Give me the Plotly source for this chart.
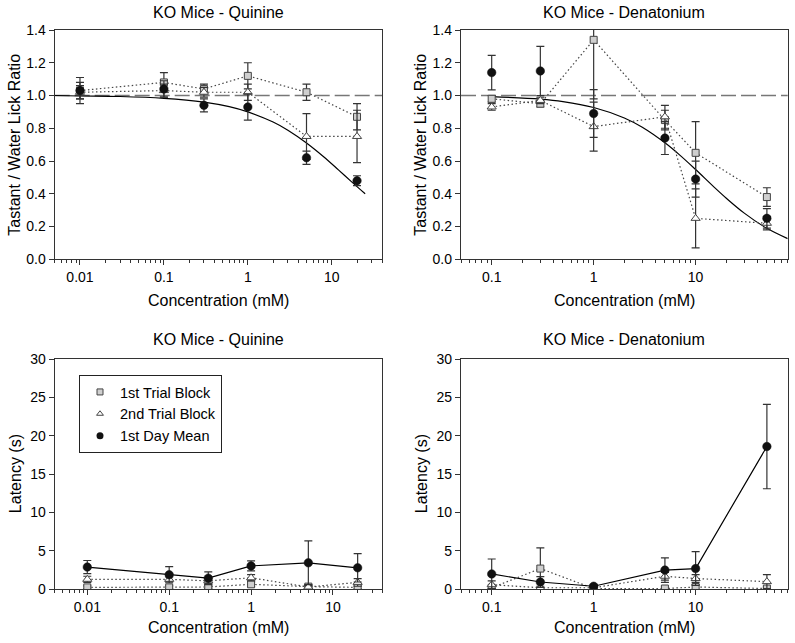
import math
import plotly.graph_objects as go

# ---------------- data ----------------
q_conc = [0.01, 0.1, 0.3, 1, 5, 20]
d_conc = [0.1, 0.3, 1, 5, 10, 50]

# Lick ratio, quinine
q_ratio_b1 = [1.03, 1.08, 1.04, 1.12, 1.02, 0.87]
q_ratio_b1_err = [0.05, 0.06, 0.03, 0.08, 0.05, 0.08]
q_ratio_b2 = [1.02, 1.03, 1.02, 1.02, 0.75, 0.75]
q_ratio_b2_err = [0.04, 0.04, 0.03, 0.05, 0.14, 0.16]
q_ratio_mean = [1.03, 1.04, 0.94, 0.93, 0.62, 0.48]
q_ratio_mean_err = [0.08, 0.05, 0.04, 0.08, 0.04, 0.03]
q_fit_x = [0.005, 0.01, 0.03, 0.1, 0.3, 0.6, 1, 2, 3, 5, 8, 12, 17, 25]
q_fit_y = [1.0, 0.997, 0.994, 0.983, 0.96, 0.932, 0.90, 0.838, 0.788, 0.71, 0.626, 0.546, 0.476, 0.40]

# Lick ratio, denatonium
d_ratio_b1 = [0.98, 0.95, 1.34, 0.85, 0.65, 0.38]
d_ratio_b1_err = [0.02, 0.02, 0.36, 0.06, 0.19, 0.057]
d_ratio_b2 = [0.93, 0.97, 0.81, 0.87, 0.25, 0.22]
d_ratio_b2_err = [0.02, 0.02, 0.15, 0.07, 0.18, 0.04]
d_ratio_mean = [1.14, 1.15, 0.89, 0.74, 0.49, 0.25]
d_ratio_mean_err = [0.105, 0.15, 0.146, 0.10, 0.11, 0.06]
d_fit_x = [0.1, 0.3, 0.5, 1, 2, 3, 5, 7, 10, 15, 20, 30, 50, 80]
d_fit_y = [0.993, 0.978, 0.963, 0.927, 0.863, 0.806, 0.711, 0.636, 0.548, 0.444, 0.373, 0.282, 0.189, 0.126]

# Latency, quinine
q_lat_b1 = [0.25, 0.25, 0.3, 0.65, 0.35, 0.25]
q_lat_b1_err = [0.2, 0.2, 0.2, 0.3, 0.2, 0.2]
q_lat_b2 = [1.3, 1.3, 1.1, 1.5, 0.3, 0.9]
q_lat_b2_err = [0.4, 0.3, 0.3, 0.4, 0.2, 0.5]
q_lat_mean = [2.9, 1.9, 1.45, 3.05, 3.45, 2.8]
q_lat_mean_err = [0.85, 1.05, 0.83, 0.65, 2.85, 1.85]

# Latency, denatonium
d_lat_b1 = [0.2, 2.7, 0.1, 0.1, 0.3, 0.1]
d_lat_b1_err = [0.2, 2.7, 0.1, 0.2, 0.3, 0.2]
d_lat_b2 = [0.6, 0.2, 0.2, 1.7, 1.4, 1.0]
d_lat_b2_err = [0.5, 0.2, 0.2, 0.5, 0.5, 0.9]
d_lat_mean = [2.0, 0.95, 0.4, 2.5, 2.7, 18.6]
d_lat_mean_err = [1.95, 0.7, 0.2, 1.6, 2.2, 5.5]

REF_RATIO = 1.0
series_names = ["1st Trial Block", "2nd Trial Block", "1st Day Mean"]
panel_titles = ["KO Mice - Quinine", "KO Mice - Denatonium", "KO Mice - Quinine", "KO Mice - Denatonium"]
x_title = "Concentration (mM)"
y_titles = ["Tastant / Water Lick Ratio", "Latency (s)"]

# ---------------- style ----------------
W, H = 795, 643
FONT = "Liberation Sans, Arial, sans-serif"
AX = "#333333"
SQ_FILL = "#cfcfcf"
DOT = "#444444"

fig = go.Figure()

def px_x(p):
    return p / W

def px_y(p):
    return 1 - p / H

ERR = dict(type="data", color=AX, thickness=1.2, width=4, visible=True)

def add_series(xs, b1, b1e, b2, b2e, mn, mne, ax, mean_line):
    xa, ya = ax
    fig.add_trace(go.Scatter(x=xs, y=b1, mode="lines+markers", xaxis=xa, yaxis=ya,
                             line=dict(color=DOT, width=1.2, dash="1.5px,2.5px"),
                             marker=dict(symbol="square", size=7, color=SQ_FILL,
                                         line=dict(color="#444", width=1)),
                             error_y=dict(ERR, array=b1e), showlegend=False))
    fig.add_trace(go.Scatter(x=xs, y=b2, mode="lines+markers", xaxis=xa, yaxis=ya,
                             line=dict(color=DOT, width=1.2, dash="1.5px,2.5px"),
                             marker=dict(symbol="triangle-up", size=8, color="white",
                                         line=dict(color="#444", width=1)),
                             error_y=dict(ERR, array=b2e), showlegend=False))
    fig.add_trace(go.Scatter(x=xs, y=mn, mode="lines+markers" if mean_line else "markers",
                             xaxis=xa, yaxis=ya,
                             line=dict(color="black", width=1.2),
                             marker=dict(symbol="circle", size=8.5, color="#111",
                                         line=dict(color="#111", width=0.5)),
                             error_y=dict(ERR, array=mne), showlegend=False))

for xa, ya in [("x", "y"), ("x2", "y2")]:
    fig.add_shape(type="line", xref=f"{xa} domain", yref=ya, x0=0, x1=1,
                  y0=REF_RATIO, y1=REF_RATIO, layer="below",
                  line=dict(color="#777", width=1.3, dash="15px,5px"))

fig.add_trace(go.Scatter(x=q_fit_x, y=q_fit_y, mode="lines", xaxis="x", yaxis="y",
                         line=dict(color="black", width=1.2, shape="spline"), showlegend=False))
fig.add_trace(go.Scatter(x=d_fit_x, y=d_fit_y, mode="lines", xaxis="x2", yaxis="y2",
                         line=dict(color="black", width=1.2, shape="spline"), showlegend=False))

add_series(q_conc, q_ratio_b1, q_ratio_b1_err, q_ratio_b2, q_ratio_b2_err,
           q_ratio_mean, q_ratio_mean_err, ("x", "y"), False)
add_series(d_conc, d_ratio_b1, d_ratio_b1_err, d_ratio_b2, d_ratio_b2_err,
           d_ratio_mean, d_ratio_mean_err, ("x2", "y2"), False)
add_series(q_conc, q_lat_b1, q_lat_b1_err, q_lat_b2, q_lat_b2_err,
           q_lat_mean, q_lat_mean_err, ("x3", "y3"), True)
add_series(d_conc, d_lat_b1, d_lat_b1_err, d_lat_b2, d_lat_b2_err,
           d_lat_mean, d_lat_mean_err, ("x4", "y4"), True)

leg_markers = [
    dict(symbol="square", size=6, color=SQ_FILL, line=dict(color="#444", width=1)),
    dict(symbol="triangle-up", size=6, color="white", line=dict(color="#444", width=1)),
    dict(symbol="circle", size=7, color="#111"),
]
for name, mk in zip(series_names, leg_markers):
    fig.add_trace(go.Scatter(x=[None], y=[None], mode="markers", xaxis="x3", yaxis="y3",
                             marker=mk, name=name, showlegend=True))

def minor_vals(lo, hi):
    out = []
    for d in range(-4, 3):
        for k in range(2, 10):
            v = k * 10 ** d
            if lo <= v <= hi:
                out.append(v)
    return out

def xaxis_cfg(lo, hi, ticks, dom):
    return dict(type="log", range=[math.log10(lo), math.log10(hi)], domain=dom,
                tickvals=ticks, ticktext=[("%g" % t) for t in ticks],
                ticks="outside", ticklen=5, tickwidth=1, tickcolor=AX,
                showline=True, linecolor=AX, linewidth=1.3, mirror=True,
                showgrid=False, zeroline=False,
                tickfont=dict(size=14, color="black", family=FONT),
                minor=dict(ticks="outside", ticklen=3, tickwidth=1, tickcolor=AX,
                           tickvals=minor_vals(lo, hi), showgrid=False))

def yaxis_cfg(rng, dtick, fmt, dom, anchor):
    return dict(range=rng, dtick=dtick, tickformat=fmt, domain=dom, anchor=anchor,
                ticks="outside", ticklen=5, tickwidth=1, tickcolor=AX,
                showline=True, linecolor=AX, linewidth=1.3, mirror=True,
                showgrid=False, zeroline=False,
                tickfont=dict(size=14, color="black", family=FONT))

colL = [px_x(54.7), px_x(382.3)]
colR = [px_x(461), px_x(787.7)]
rowT = [px_y(259.3), px_y(30)]
rowB = [px_y(589.3), px_y(359)]

fig.update_layout(
    width=W, height=H, margin=dict(l=0, r=0, t=0, b=0, autoexpand=False),
    paper_bgcolor="white", plot_bgcolor="white",
    font=dict(family=FONT, size=14, color="black"),
    xaxis=dict(xaxis_cfg(0.005, 40, [0.01, 0.1, 1, 10], colL), anchor="y"),
    xaxis2=dict(xaxis_cfg(0.05, 80, [0.1, 1, 10], colR), anchor="y2"),
    xaxis3=dict(xaxis_cfg(0.004, 40, [0.01, 0.1, 1, 10], colL), anchor="y3"),
    xaxis4=dict(xaxis_cfg(0.05, 80, [0.1, 1, 10], colR), anchor="y4"),
    yaxis=yaxis_cfg([0, 1.4], 0.2, ".1f", rowT, "x"),
    yaxis2=yaxis_cfg([0, 1.4], 0.2, ".1f", rowT, "x2"),
    yaxis3=yaxis_cfg([0, 30], 5, "d", rowB, "x3"),
    yaxis4=yaxis_cfg([0, 30], 5, "d", rowB, "x4"),
    legend=dict(x=px_x(79), y=px_y(375), xanchor="left", yanchor="top",
                bordercolor="#222", borderwidth=1, bgcolor="white",
                font=dict(size=14.5, family=FONT), itemwidth=30,
                tracegroupgap=0),
)

annots = []
centers_x = [(54.7 + 382.3) / 2, (461 + 787.7) / 2]
for i, t in enumerate(panel_titles):
    cx = centers_x[i % 2]
    ty = 13 if i < 2 else 340
    annots.append(dict(text=t, x=px_x(cx), y=px_y(ty), xref="paper", yref="paper",
                       xanchor="center", yanchor="middle",
                       showarrow=False, font=dict(size=16, family=FONT)))
for i in range(4):
    cx = centers_x[i % 2]
    ty = 300 if i < 2 else 627
    annots.append(dict(text=x_title, x=px_x(cx), y=px_y(ty), xref="paper", yref="paper",
                       xanchor="center", yanchor="middle",
                       showarrow=False, font=dict(size=16, family=FONT)))
for i in range(4):
    tx = 15 if i % 2 == 0 else 421
    cy = (30 + 259.3) / 2 if i < 2 else (359 + 589.3) / 2
    annots.append(dict(text=y_titles[0] if i < 2 else y_titles[1], x=px_x(tx), y=px_y(cy),
                       xref="paper", yref="paper", textangle=-90, showarrow=False,
                       xanchor="center", yanchor="middle",
                       font=dict(size=16, family=FONT)))
fig.update_layout(annotations=annots)

fig.write_html("out.html", config={"displayModeBar": False},
               post_script="document.body.style.margin='0px';document.body.style.overflow='hidden';")
